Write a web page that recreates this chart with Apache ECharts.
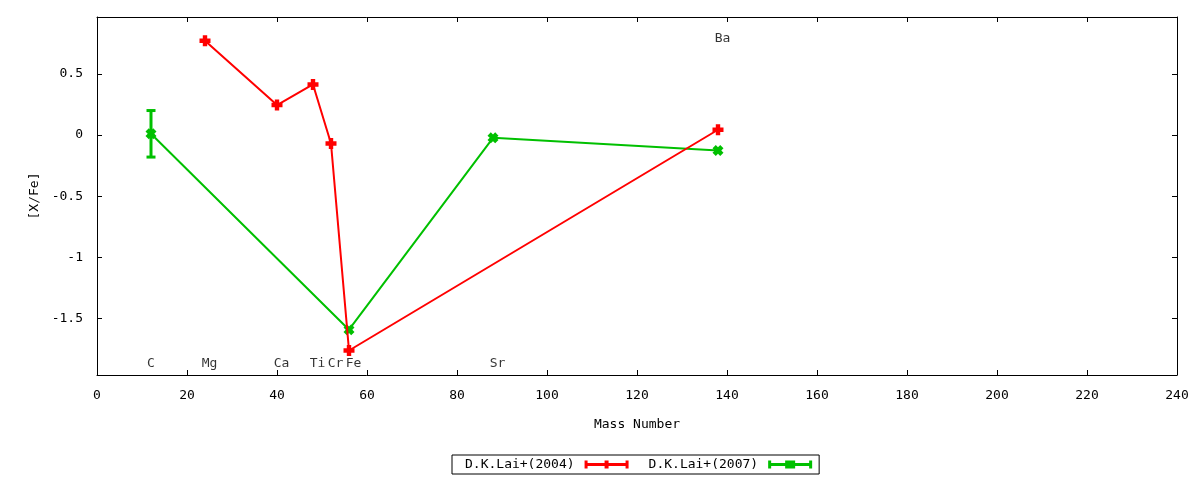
<!DOCTYPE html>
<html>
<head>
<meta charset="utf-8">
<script src="https://cdn.jsdelivr.net/npm/echarts@6/dist/echarts.min.js"></script>
<style>
  html, body { margin: 0; padding: 0; background: #fff; }
  #chart { width: 1200px; height: 480px; }
</style>
</head>
<body>
<div id="chart"></div>
<script>
// ---- data ----
const seriesNames = ['D.K.Lai+(2004)', 'D.K.Lai+(2007)'];
const massRed = [24, 40, 48, 52, 56, 138];
const valRed = [0.77, 0.245, 0.413, -0.069, -1.76, 0.043];
const massGreen = [12, 56, 88, 138];
const valGreen = [0.01, -1.59, -0.023, -0.126];
const errGreen = [0.19, 0, 0, 0];
const elements = ['C', 'Mg', 'Ca', 'Ti', 'Cr', 'Fe', 'Sr', 'Ba'];
const labelX = [12, 25, 41, 49, 53, 57, 89, 139];
const labelY = [-1.87, -1.87, -1.87, -1.87, -1.87, -1.87, -1.87, 0.785];
const xTicks = [0, 20, 40, 60, 80, 100, 120, 140, 160, 180, 200, 220, 240];

const RED = '#ff0000';
const GREEN = '#00c000';
const FONT = 'DejaVu Sans Mono';

const plusPath = 'path://M3,0H7V3H10V7H7V10H3V7H0V3H3Z';
const xPath = 'path://M0,3L3,0L5,2L7,0L10,3L8,5L10,7L7,10L5,8L3,10L0,7L2,5Z';
const legendRed = 'path://M0,0H3V2.5H20V0H24V2.5H41V0H44V8H41V5.5H24V8H20V5.5H3V8H0Z';
const legendGreen = 'path://M0,0H3V2.5H17V0H27V2.5H41V0H44V8H41V5.5H27V8H17V5.5H3V8H0Z';

const chart = echarts.init(document.getElementById('chart'), null, { renderer: 'canvas' });

const axisCommon = {
  axisLine: { show: true, onZero: false, lineStyle: { color: '#000', width: 1 } },
  axisTick: { show: true, inside: true, length: 5, lineStyle: { color: '#000' } },
  splitLine: { show: false },
  axisLabel: { color: '#000', fontFamily: FONT, fontSize: 13 }
};

const option = {
  animation: false,
  backgroundColor: '#fff',
  grid: { left: 97, right: 23, top: 17, bottom: 105, containLabel: false },
  legend: {
    data: [
      { name: seriesNames[0], icon: legendRed },
      { name: seriesNames[1], icon: legendGreen }
    ],
    left: 452,
    top: 455,
    align: 'right',
    orient: 'horizontal',
    itemWidth: 44,
    itemHeight: 8,
    itemGap: 20,
    padding: [3, 7, 3, 13],
    borderColor: '#000',
    borderWidth: 1,
    textStyle: { color: '#000', fontFamily: FONT, fontSize: 13, padding: [0, 5, 0, 0] }
  },
  xAxis: [
    Object.assign({}, axisCommon, {
      type: 'value', min: xTicks[0], max: xTicks[xTicks.length - 1], interval: 20,
      position: 'bottom',
      name: 'Mass Number', nameLocation: 'middle', nameGap: 43,
      nameTextStyle: { color: '#000', fontFamily: FONT, fontSize: 13 },
      axisLabel: { color: '#000', fontFamily: FONT, fontSize: 13, margin: 14 }
    }),
    Object.assign({}, axisCommon, {
      type: 'value', min: xTicks[0], max: xTicks[xTicks.length - 1], interval: 20,
      position: 'top',
      axisLabel: { show: false }
    })
  ],
  yAxis: [
    Object.assign({}, axisCommon, {
      type: 'value', min: -1.96, max: 0.964, splitNumber: 5,
      position: 'left',
      name: '[X/Fe]', nameLocation: 'middle', nameGap: 56, nameRotate: 90,
      nameTextStyle: { color: '#000', fontFamily: FONT, fontSize: 13 },
      axisLabel: { color: '#000', fontFamily: FONT, fontSize: 13, margin: 14,
                   showMinLabel: false, showMaxLabel: false,
                   formatter: v => String(v) }
    }),
    Object.assign({}, axisCommon, {
      type: 'value', min: -1.96, max: 0.964, splitNumber: 5,
      position: 'right',
      axisLabel: { show: false }
    })
  ],
  series: [
    {
      name: seriesNames[1],
      type: 'line',
      xAxisIndex: 0, yAxisIndex: 0,
      data: massGreen.map((m, i) => [m, valGreen[i]]),
      color: GREEN,
      itemStyle: { color: GREEN },
      lineStyle: { color: GREEN, width: 2 },
      symbol: xPath,
      symbolSize: 11,
      showAllSymbol: true,
      z: 2
    },
    {
      name: seriesNames[1],
      type: 'custom',
      xAxisIndex: 0, yAxisIndex: 0,
      data: massGreen.map((m, i) => [m, valGreen[i], errGreen[i]]),
      renderItem: function (params, api) {
        const x = api.value(0), y = api.value(1), e = api.value(2);
        if (!e) return null;
        const t = api.coord([x, y + e]);
        const b = api.coord([x, y - e]);
        const st = { stroke: GREEN, lineWidth: 3 };
        return {
          type: 'group',
          children: [
            { type: 'line', shape: { x1: t[0], y1: t[1], x2: b[0], y2: b[1] }, style: st },
            { type: 'line', shape: { x1: t[0] - 4.5, y1: t[1], x2: t[0] + 4.5, y2: t[1] }, style: st },
            { type: 'line', shape: { x1: b[0] - 4.5, y1: b[1], x2: b[0] + 4.5, y2: b[1] }, style: st }
          ]
        };
      },
      silent: true,
      z: 2
    },
    {
      name: seriesNames[0],
      type: 'line',
      xAxisIndex: 0, yAxisIndex: 0,
      data: massRed.map((m, i) => [m, valRed[i]]),
      color: RED,
      itemStyle: { color: RED },
      lineStyle: { color: RED, width: 2 },
      symbol: plusPath,
      symbolSize: 11,
      showAllSymbol: true,
      z: 3
    },
    {
      name: 'labels',
      type: 'scatter',
      xAxisIndex: 0, yAxisIndex: 0,
      data: elements.map((el, i) => ({ value: [labelX[i], labelY[i]], name: el })),
      symbolSize: 0,
      silent: true,
      label: {
        show: true, position: 'inside', formatter: p => p.name,
        color: '#000', fontFamily: FONT, fontSize: 13
      },
      z: 4
    }
  ]
};

chart.setOption(option);
</script>
</body>
</html>
